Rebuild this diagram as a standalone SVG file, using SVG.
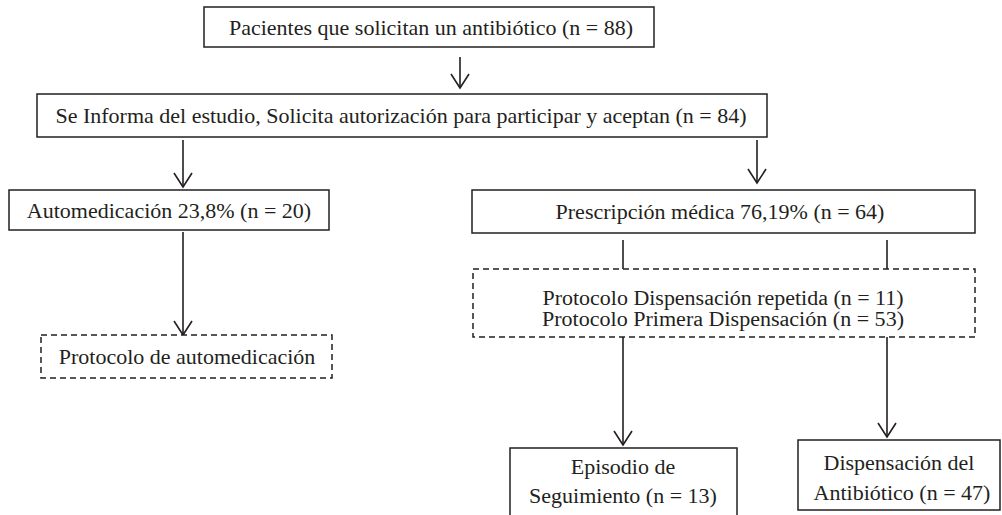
<svg xmlns="http://www.w3.org/2000/svg" width="1002" height="515" viewBox="0 0 1002 515">
<style>
.box{fill:#fff;stroke:#231f20;stroke-width:1.5}
.dash{fill:#fff;stroke:#231f20;stroke-width:1.5;stroke-dasharray:6 4}
.t{font-family:'Liberation Serif','DejaVu Serif',serif;font-size:22px;fill:#231f20;text-anchor:middle}
.s{font-size:20px}
.c{stroke:#231f20;stroke-width:1.6;fill:none}
</style>
<defs>
<marker id="ah" markerUnits="userSpaceOnUse" markerWidth="30" markerHeight="30" refX="0" refY="0" orient="auto" overflow="visible">
<path d="M-14,-9 L0,0 L-14,9" fill="none" stroke="#231f20" stroke-width="1.6"/>
</marker>
</defs>
<g id="connectors">
<line class="c" x1="460" y1="57" x2="460" y2="88" marker-end="url(#ah)"/>
<line class="c" x1="183" y1="140" x2="183" y2="187" marker-end="url(#ah)"/>
<line class="c" x1="757" y1="140" x2="757" y2="183" marker-end="url(#ah)"/>
<line class="c" x1="183" y1="232" x2="183" y2="335" marker-end="url(#ah)"/>
<line class="c" x1="623" y1="240" x2="623" y2="269"/>
<line class="c" x1="887" y1="240" x2="887" y2="269"/>
<line class="c" x1="623" y1="337" x2="623" y2="445" marker-end="url(#ah)"/>
<line class="c" x1="887" y1="337" x2="887" y2="437" marker-end="url(#ah)"/>
</g>
<g id="n1"><rect class="box" x="204" y="7" width="450" height="40"/><text class="t" x="431" y="35">Pacientes que solicitan un antibiótico (n = 88)</text></g>
<g id="n2"><rect class="box" x="37" y="94" width="730" height="43"/><text class="t" x="401" y="123">Se Informa del estudio, Solicita autorización para participar y aceptan (n = 84)</text></g>
<g id="n3"><rect class="box" x="9" y="190" width="320" height="40"/><text class="t" x="169" y="218">Automedicación 23,8% (n = 20)</text></g>
<g id="n4"><rect class="box" x="472" y="190" width="503" height="43"/><text class="t" x="720" y="219">Prescripción médica 76,19% (n = 64)</text></g>
<g id="n5"><rect class="dash" x="41" y="335" width="291" height="43"/><text class="t" x="187" y="364">Protocolo de automedicación</text></g>
<g id="n6"><rect class="dash" x="473" y="269" width="502" height="68"/><text class="t s" x="723" y="305" textLength="361" lengthAdjust="spacingAndGlyphs">Protocolo Dispensación repetida (n = 11)</text><text class="t s" x="723" y="326" textLength="362" lengthAdjust="spacingAndGlyphs">Protocolo Primera Dispensación (n = 53)</text></g>
<g id="n7"><rect class="box" x="510" y="448" width="227" height="80"/><text class="t"><tspan x="623" y="474">Episodio de</tspan><tspan x="623" y="503">Seguimiento (n = 13)</tspan></text></g>
<g id="n8"><rect class="box" x="798" y="440" width="202" height="70"/><text class="t"><tspan x="899" y="470">Dispensación del</tspan><tspan x="902" y="500">Antibiótico (n = 47)</tspan></text></g>
</svg>
